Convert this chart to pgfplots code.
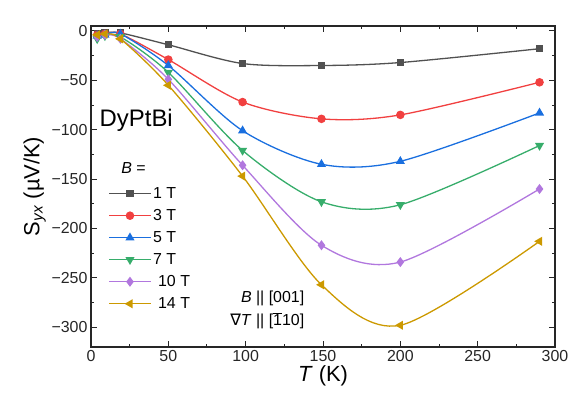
\documentclass[border=0pt]{standalone}
\usepackage{fontspec}
\setmainfont{Liberation Sans}
\newfontfamily\dejavu{DejaVu Sans}
\usepackage{pgfplots}
\pgfplotsset{compat=1.18}

\definecolor{cGray}{HTML}{515151}
\definecolor{cRed}{HTML}{F14040}
\definecolor{cBlue}{HTML}{1A6FDF}
\definecolor{cGreen}{HTML}{37AD6B}
\definecolor{cViolet}{HTML}{B177DE}
\definecolor{cGold}{HTML}{CC9900}

\begin{document}
\begin{tikzpicture}
\begin{axis}[
  name=ax, at={(0,0)}, anchor=south west,
  scale only axis, width=464bp, height=321bp,
  xmin=0, xmax=300, ymin=-320, ymax=5,
  xtick={0,50,...,300}, ytick={0,-50,-100,-150,-200,-250,-300},
  yticklabels={0,−50,−100,−150,−200,−250,−300},
  minor x tick num=1, minor y tick num=1,
  tick align=inside,
  major tick length=6bp, minor tick length=3.5bp,
  axis line style={line width=1.1bp, black!85},
  every tick/.style={line width=1bp, black!85},
  tick label style={font=\fontsize{16}{19}\selectfont, text=black!85},
  /pgf/number format/assume math mode=true,
  xlabel={\textit{T} (K)},
  ylabel={S\textsubscript{\textit{yx}} (µV/K)},
  label style={font=\fontsize{22}{26}\selectfont},
  xlabel style={yshift=3bp},
  ylabel style={yshift=-1bp},
  every axis plot/.append style={line width=1.3bp, smooth, mark options={solid}},
  legend image code/.code={\draw[mark repeat=2,mark phase=2,#1] plot coordinates {(0bp,0bp)(20.5bp,0bp)(41bp,0bp)};},
  legend style={at={(rel axis cs:0.038,0.504)}, anchor=north west, draw=none, fill=none,
    font=\fontsize{16}{19}\selectfont, row sep=5.5bp, inner sep=0pt,
    nodes={inner sep=2bp}},
  legend cell align=left,
]
\addplot[color=cGray, mark=square*, mark size=3bp] coordinates {
  (4,-3)(9,-2)(19,-2)(50,-14)(98,-33)(149,-35)(200,-32)(290,-18)};
\addlegendentry{1 T}
\addplot[color=cRed, mark=*, mark size=3.6bp] coordinates {
  (4,-4)(9,-3)(19,-3)(50,-29)(98,-72)(149,-89)(200,-85)(290,-52)};
\addlegendentry{3 T}
\addplot[color=cBlue, mark=triangle*, mark size=4bp] coordinates {
  (4,-5)(9,-4)(19,-3)(50,-35)(98,-101)(149,-135)(200,-132)(290,-83)};
\addlegendentry{5 T}
\addplot[color=cGreen, mark=triangle*, mark size=4bp, mark options={rotate=180}] coordinates {
  (4,-8)(9,-5)(19,-6)(50,-42)(98,-121)(149,-173)(200,-176)(290,-116)};
\addlegendentry{7 T}
\addplot[color=cViolet, mark=diamond*, mark size=4bp] coordinates {
  (4,-6)(9,-4)(19,-8)(50,-49)(98,-136)(149,-217)(200,-234)(290,-160)};
\addlegendentry{\hspace{5bp}10 T}
\addplot[color=cGold, mark=triangle*, mark size=4bp, mark options={rotate=90}] coordinates {
  (4,-4)(9,-3)(19,-8)(50,-55)(98,-147)(149,-257)(200,-298)(290,-213)};
\addlegendentry{\hspace{5bp}14 T}

\node[anchor=west, font=\fontsize{24}{28}\selectfont, inner sep=0pt] at (axis cs:5.5,-91) {DyPtBi};
\node[anchor=west, font=\fontsize{16}{19}\selectfont, inner sep=0pt] at (axis cs:19.5,-139) {\textit{B} =};
\node[anchor=east, font=\fontsize{16}{19}\selectfont, inner sep=0pt] at (axis cs:138,-271) {\textit{B} || [001]};
\node[anchor=east, font=\fontsize{16}{19}\selectfont, inner sep=0pt] at (axis cs:138,-293) {{\dejavu ∇}\textit{T} || [\(\overline{\mbox{1}}\)10]};
\end{axis}
\pgfresetboundingbox
\path (-91bp,-54bp) rectangle (481bp,347bp);
\end{tikzpicture}
\end{document}
